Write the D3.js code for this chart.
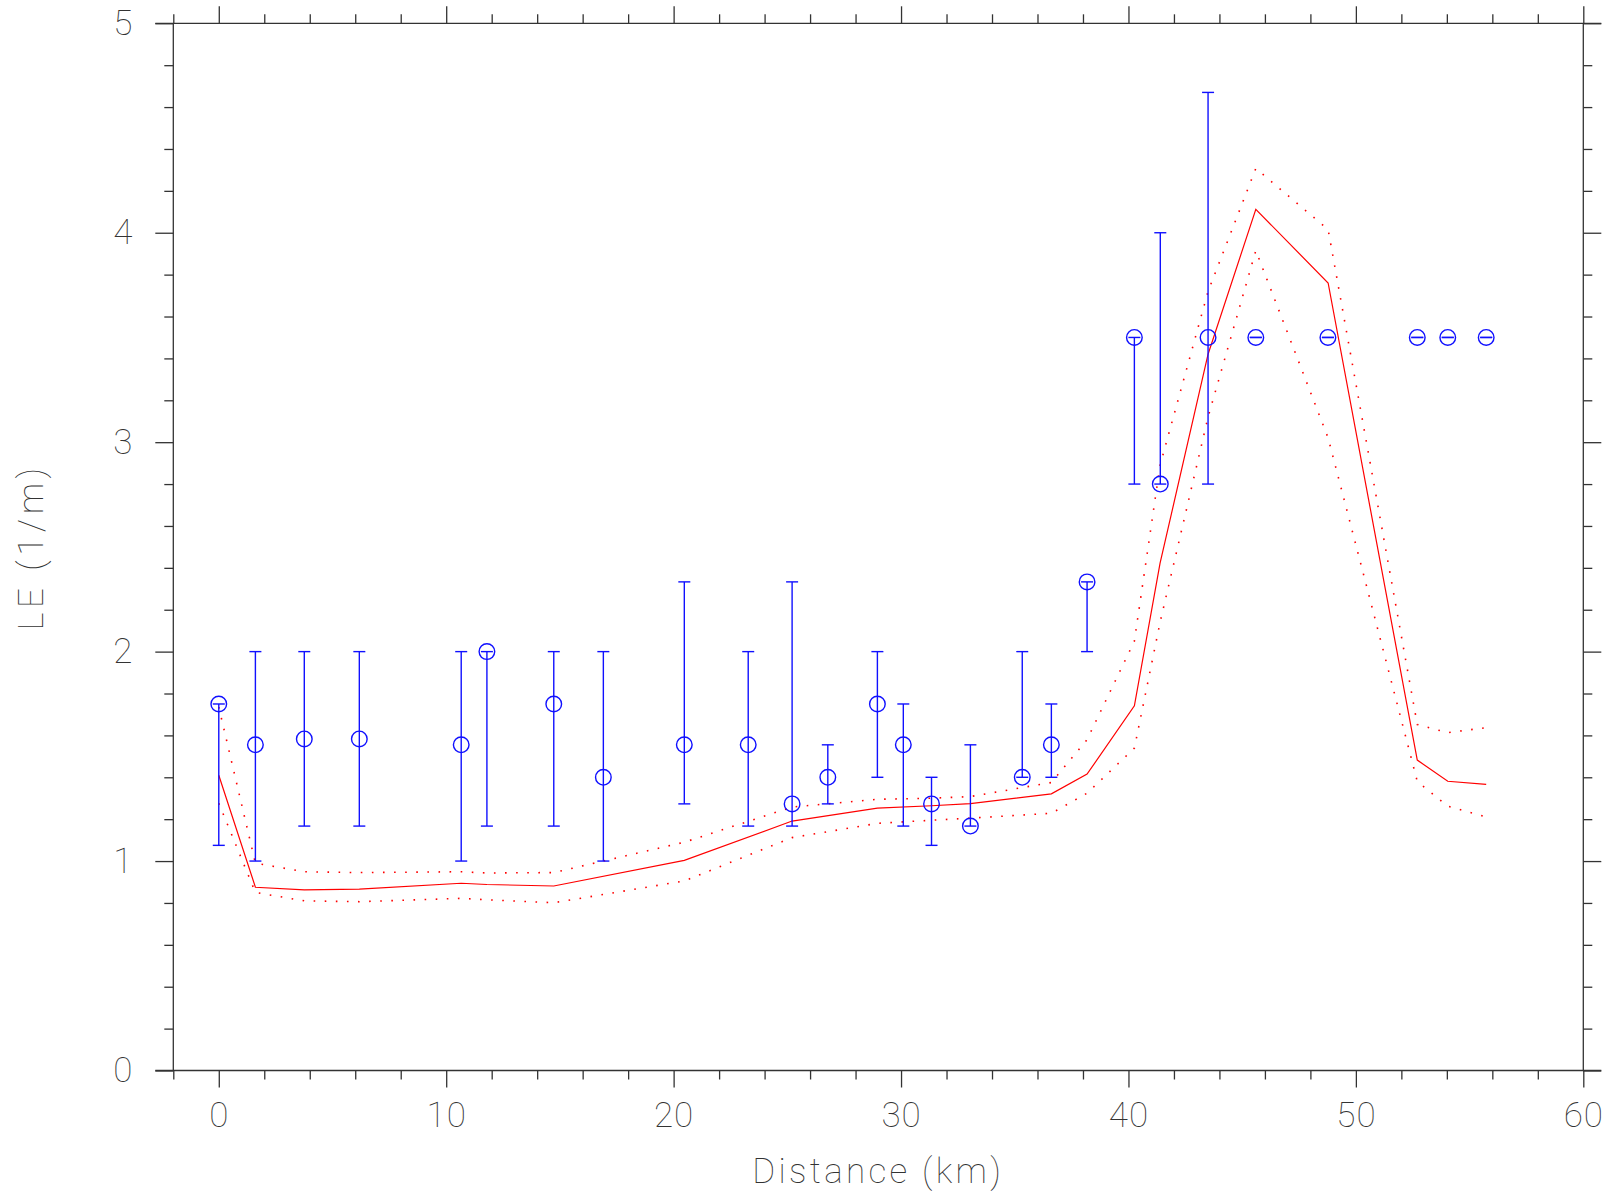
<!DOCTYPE html>
<html><head><meta charset="utf-8">
<script src="https://cdn.jsdelivr.net/npm/d3@7"></script>
<style>
body{margin:0;background:#fff}
svg{display:block}
text{font-family:Roboto,"DejaVu Sans",sans-serif;font-weight:100;fill:#333}
</style>
</head><body>
<svg id="c" width="1614" height="1196"></svg>
<script>
// Observations (blue circles with error bars)
const obsX  = [0, 1.61, 3.76, 6.18, 10.66, 11.79, 14.73, 16.91, 20.47, 23.28, 25.21, 26.78, 28.96, 30.1, 31.34, 33.05, 35.33, 36.61, 38.18, 40.26, 41.4, 43.5, 45.6, 48.77, 52.7, 54.04, 55.73];
const obsY  = [1.75, 1.555, 1.583, 1.583, 1.555, 2.0, 1.75, 1.4, 1.555, 1.555, 1.273, 1.4, 1.75, 1.555, 1.273, 1.167, 1.4, 1.555, 2.333, 3.5, 2.8, 3.5, 3.5, 3.5, 3.5, 3.5, 3.5];
const obsLo = [1.075, 1.0, 1.167, 1.167, 1.0, 1.167, 1.167, 1.0, 1.273, 1.167, 1.167, 1.273, 1.4, 1.167, 1.075, 1.167, 1.4, 1.4, 2.0, 2.8, 2.8, 2.8, 3.5, 3.5, 3.5, 3.5, 3.5];
const obsHi = [1.75, 2.0, 2.0, 2.0, 2.0, 2.0, 2.0, 2.0, 2.333, 2.0, 2.333, 1.555, 2.0, 1.75, 1.4, 1.555, 2.0, 1.75, 2.333, 3.5, 4.0, 4.67, 3.5, 3.5, 3.5, 3.5, 3.5];

// Model (red line) and bounds (dotted)
const modX     = [0, 1.61, 3.76, 6.18, 10.66, 11.79, 14.73, 20.47, 25.21, 28.96, 31.34, 33.05, 36.61, 38.18, 40.26, 41.39, 43.5, 45.6, 48.78, 52.7, 54.04, 55.73];
const modMean  = [1.41, 0.875, 0.862, 0.866, 0.894, 0.888, 0.881, 1.003, 1.191, 1.253, 1.264, 1.274, 1.321, 1.415, 1.741, 2.422, 3.42, 4.112, 3.76, 1.482, 1.381, 1.366];
const modUpper = [1.735, 0.99, 0.949, 0.945, 0.949, 0.943, 0.945, 1.09, 1.258, 1.295, 1.30, 1.308, 1.375, 1.58, 2.05, 2.89, 3.72, 4.307, 4.015, 1.652, 1.613, 1.637];
const modLower = [1.276, 0.85, 0.81, 0.806, 0.822, 0.815, 0.801, 0.905, 1.112, 1.18, 1.195, 1.205, 1.228, 1.324, 1.539, 2.14, 3.12, 3.915, 3.02, 1.38, 1.262, 1.211];

const xMajor = [0, 10, 20, 30, 40, 50, 60];
const yMajor = [0, 1, 2, 3, 4, 5];
const xLabel = "Distance (km)";
const yLabel = "LE (1/m)";

const svg = d3.select("#c");
const L = 173.3, R = 1583.3, T = 23.3, B = 1070.5;
const x = d3.scaleLinear([-2, 60], [L, R]);
const y = d3.scaleLinear([0, 5], [B, T]);

const xMinor = d3.range(-2, 60.01, 2).filter(v => !xMajor.includes(v));
const yMinor = d3.range(0, 5.001, 0.2).map(v => +v.toFixed(1)).filter(v => !yMajor.includes(v));

const axCol = "#333";
const txtCol = "#3a3a3a";
function styleAxis(g) {
  g.select(".domain").remove();
  g.selectAll(".tick line").attr("stroke", axCol).attr("stroke-width", 1.3);
  g.selectAll(".tick text").attr("fill", txtCol).style("font-size", "35px")
    .style("font-family", "Roboto, 'DejaVu Sans', sans-serif").style("font-weight", 100)
    .style("letter-spacing", "1px");
}

// bottom
svg.append("g").attr("transform", `translate(0,${B})`)
  .call(d3.axisBottom(x).tickValues(xMinor).tickSize(9).tickFormat("")).call(styleAxis);
svg.append("g").attr("transform", `translate(0,${B})`)
  .call(d3.axisBottom(x).tickValues(xMajor).tickSize(17).tickPadding(15).tickFormat(d3.format("d"))).call(styleAxis);
// top
svg.append("g").attr("transform", `translate(0,${T})`)
  .call(d3.axisTop(x).tickValues(xMinor).tickSize(9).tickFormat("")).call(styleAxis);
svg.append("g").attr("transform", `translate(0,${T})`)
  .call(d3.axisTop(x).tickValues(xMajor).tickSize(17).tickFormat("")).call(styleAxis);
// left
svg.append("g").attr("transform", `translate(${L},0)`)
  .call(d3.axisLeft(y).tickValues(yMinor).tickSize(9).tickFormat("")).call(styleAxis);
svg.append("g").attr("transform", `translate(${L},0)`)
  .call(d3.axisLeft(y).tickValues(yMajor).tickSize(18).tickPadding(22).tickFormat(d3.format("d"))).call(styleAxis);
// right
svg.append("g").attr("transform", `translate(${R},0)`)
  .call(d3.axisRight(y).tickValues(yMinor).tickSize(9).tickFormat("")).call(styleAxis);
svg.append("g").attr("transform", `translate(${R},0)`)
  .call(d3.axisRight(y).tickValues(yMajor).tickSize(18).tickFormat("")).call(styleAxis);

// frame lines (horizontal ones extend beyond the box)
const frame = svg.append("g").attr("stroke", axCol).attr("stroke-width", 1.3);
frame.append("line").attr("x1", L - 18).attr("x2", R + 18).attr("y1", B).attr("y2", B);
frame.append("line").attr("x1", L - 18).attr("x2", R + 18).attr("y1", T).attr("y2", T);
frame.append("line").attr("x1", L).attr("x2", L).attr("y1", T).attr("y2", B);
frame.append("line").attr("x1", R).attr("x2", R).attr("y1", T).attr("y2", B);

// model lines
const idx = d3.range(modX.length);
const lineOf = arr => d3.line().x(i => x(modX[i])).y(i => y(arr[i]))(idx);
svg.append("path").attr("d", lineOf(modUpper)).attr("fill", "none").attr("stroke", "#ff0000")
  .attr("stroke-width", 1.6).attr("stroke-dasharray", "1.6,9.5");
svg.append("path").attr("d", lineOf(modLower)).attr("fill", "none").attr("stroke", "#ff0000")
  .attr("stroke-width", 1.6).attr("stroke-dasharray", "1.6,9.5");
svg.append("path").attr("d", lineOf(modMean)).attr("fill", "none").attr("stroke", "#ff0000")
  .attr("stroke-width", 1.2);

// observations
const blue = "#1010ff";
const oi = d3.range(obsX.length);
const og = svg.append("g").attr("stroke", blue).attr("fill", "none").attr("stroke-width", 1.4);
og.selectAll("line.v").data(oi).join("line").attr("class", "v")
  .attr("x1", i => x(obsX[i])).attr("x2", i => x(obsX[i]))
  .attr("y1", i => y(obsLo[i])).attr("y2", i => y(obsHi[i]));
og.selectAll("line.lo").data(oi).join("line").attr("class", "lo")
  .attr("x1", i => x(obsX[i]) - 6).attr("x2", i => x(obsX[i]) + 6)
  .attr("y1", i => y(obsLo[i])).attr("y2", i => y(obsLo[i]));
og.selectAll("line.hi").data(oi).join("line").attr("class", "hi")
  .attr("x1", i => x(obsX[i]) - 6).attr("x2", i => x(obsX[i]) + 6)
  .attr("y1", i => y(obsHi[i])).attr("y2", i => y(obsHi[i]));
og.selectAll("circle").data(oi).join("circle")
  .attr("cx", i => x(obsX[i])).attr("cy", i => y(obsY[i])).attr("r", 7.8);

// axis titles
svg.append("text").attr("x", (L + R) / 2).attr("y", 1183).attr("text-anchor", "middle")
  .attr("fill", txtCol).style("font-size", "35px").style("letter-spacing", "3.3px").text(xLabel);
svg.append("text").attr("transform", `translate(43,${(T + B) / 2}) rotate(-90)`).attr("text-anchor", "middle")
  .attr("fill", txtCol).style("font-size", "35px").style("letter-spacing", "4.5px").text(yLabel);
</script>
</body></html>
